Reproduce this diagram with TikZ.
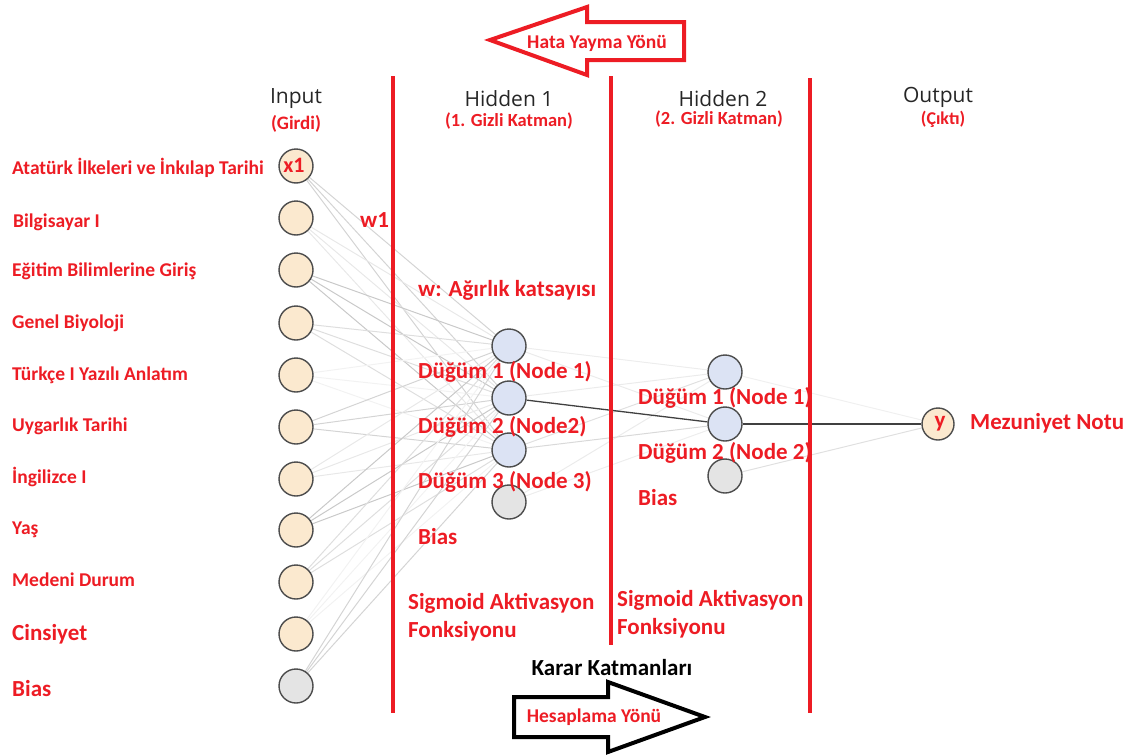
\documentclass[tikz,border=0pt]{standalone}
\usepackage{fontspec}
\setmainfont{Carlito}
\newfontfamily\hdrfont{Open Sans}
\usetikzlibrary{backgrounds}
\definecolor{rd}{HTML}{ED1C24}
\definecolor{inpfill}{HTML}{FBE9CF}
\definecolor{hidfill}{HTML}{DCE3F4}
\definecolor{biasfill}{HTML}{E4E4E4}
\definecolor{hdrgray}{HTML}{262626}
\tikzset{
  neuron/.style={circle, draw=black!70, line width=1.4pt, minimum size=34pt, inner sep=0pt},
  inp/.style={neuron, fill=inpfill},
  hid/.style={neuron, fill=hidfill},
  bia/.style={neuron, fill=biasfill},
  outn/.style={neuron, fill=inpfill, minimum size=32pt},
  conn/.style={line width=1pt},
  redline/.style={draw=rd, line width=4.5pt},
  lbl/.style={anchor=west, text=rd, font=\bfseries\fontsize{19.5}{23}\selectfont, inner sep=0pt},
  midlbl/.style={anchor=west, text=rd, font=\bfseries\fontsize{23}{27}\selectfont, inner sep=0pt},
  hdr/.style={text=hdrgray, font=\hdrfont\fontsize{21}{24}\selectfont, inner sep=0pt},
  subhdr/.style={text=rd, font=\bfseries\fontsize{19}{22}\selectfont, inner sep=0pt},
  blockarrow/.style={line width=4pt, fill=white, line join=miter}
}
\begin{document}
\begin{tikzpicture}[x=1pt,y=-1pt]
\useasboundingbox (0,0) rectangle (1130,755);

% red separator lines
\draw[redline] (393,76) -- (393,713);
\draw[redline] (611,76) -- (611,645);
\draw[redline] (810,78) -- (810,713);

% input neurons
\foreach \i/\y in {1/166,2/218,3/270,4/323,5/375,6/427,7/479,8/530,9/582,10/634}
  \node[inp] (i\i) at (296,\y) {};
\node[bia] (i11) at (296,686) {};
\node[text=rd, font=\bfseries\fontsize{22}{24}\selectfont, inner sep=0pt] (x1) at (294,165) {x1};

% hidden 1
\node[hid] (h1) at (509,346) {};
\node[hid] (h2) at (509,398) {};
\node[hid] (h3) at (509,450) {};
\node[bia] (h4) at (509,502) {};

% hidden 2
\node[hid] (g1) at (725,372) {};
\node[hid] (g2) at (725,424) {};
\node[bia] (g3) at (725,476) {};

% output
\node[outn] (o) at (938,424) {};
\node[text=rd, font=\bfseries\fontsize{23}{25}\selectfont, inner sep=0pt] (ylab) at (940,424) {y};

% connections
\begin{scope}[on background layer]
\foreach \i in {1,...,11}
  \foreach \h in {1,2,3} {
    \pgfmathtruncatemacro{\shade}{5+mod(3*\i+5*\h,5)*4}
    \draw[conn, draw=black!\shade] (i\i) -- (h\h);
  }
\foreach \h/\s in {1/7,3/12,4/8}
  \draw[conn, draw=black!\s] (h\h) -- (g1);
\foreach \h/\s in {1/8,3/15,4/7}
  \draw[conn, draw=black!\s] (h\h) -- (g2);
\draw[conn, draw=black!8] (h2) -- (g1);
\draw[conn, draw=black!75, line width=1.3pt] (h2) -- (g2);
\draw[conn, draw=black!6] (g1) -- (o);
\draw[conn, draw=black!75, line width=1.3pt] (g2) -- (o);
\draw[conn, draw=black!12] (g3) -- (o);
\end{scope}

% headers
\node[hdr] (hin) at (296,99) {Input};
\node[subhdr] (hin2) at (296,124) {(Girdi)};
\node[hdr] (hh1) at (509,99) {Hidden 1};
\node[subhdr, font=\bfseries\fontsize{18.5}{21}\selectfont] (hh1b) at (509,121) {(1. Gizli Katman)};
\node[hdr] (hh2) at (723,99) {Hidden 2};
\node[subhdr, font=\bfseries\fontsize{18.5}{21}\selectfont] (hh2b) at (719,119) {(2. Gizli Katman)};
\node[hdr] (hout) at (938,97) {Output};
\node[subhdr, font=\bfseries\fontsize{18}{21}\selectfont] (hout2) at (943,119) {(Çıktı)};

% input labels
\node[lbl] (l1) at (12,168) {Atatürk İlkeleri ve İnkılap Tarihi};
\node[lbl] (l2) at (13,222) {Bilgisayar I};
\node[lbl] (l3) at (12,271) {Eğitim Bilimlerine Giriş};
\node[lbl] (l4) at (12,323) {Genel Biyoloji};
\node[lbl] (l5) at (12,375) {Türkçe I Yazılı Anlatım};
\node[lbl] (l6) at (12,426) {Uygarlık Tarihi};
\node[lbl] (l7) at (12,477) {İngilizce I};
\node[lbl] (l8) at (12,530) {Yaş};
\node[lbl] (l9) at (12,580) {Medeni Durum};
\node[lbl, font=\bfseries\fontsize{23}{26}\selectfont] (l10) at (12,634) {Cinsiyet};
\node[lbl, font=\bfseries\fontsize{23}{26}\selectfont] (l11) at (12,689) {Bias};

% middle labels
\node[midlbl] (w1) at (360,220) {w1};
\node[midlbl] (wdesc) at (418,290) {w: Ağırlık katsayısı};
\node[midlbl] (d1) at (418,372) {Düğüm 1 (Node 1)};
\node[midlbl] (d2) at (418,427) {Düğüm 2 (Node2)};
\node[midlbl] (d3) at (418,482) {Düğüm 3 (Node 3)};
\node[midlbl] (b1) at (418,537) {Bias};
\node[midlbl] (e1) at (638,398) {Düğüm 1 (Node 1)};
\node[midlbl] (e2) at (638,453) {Düğüm 2 (Node 2)};
\node[midlbl] (b2) at (638,498) {Bias};
\node[midlbl, align=left, font=\bfseries\fontsize{23}{28}\selectfont] (s1) at (408,617) {Sigmoid Aktivasyon\\Fonksiyonu};
\node[midlbl, align=left, font=\bfseries\fontsize{23}{28}\selectfont] (s2) at (617,614) {Sigmoid Aktivasyon\\Fonksiyonu};
\node[midlbl] (mn) at (970,423) {Mezuniyet Notu};
\node[midlbl, text=black, anchor=center] (kk) at (612,668) {Karar Katmanları};

% top block arrow (error propagation)
\draw[blockarrow, draw=rd] (490,40) -- (587,7) -- (587,22) -- (684,22) -- (684,60) -- (587,60) -- (587,75) -- cycle;
\node[text=rd, font=\bfseries\fontsize{19.5}{22}\selectfont, inner sep=0pt] (hy) at (597,43) {Hata Yayma Yönü};

% bottom block arrow (computation)
\draw[blockarrow, draw=black] (514,697) -- (608,697) -- (608,682) -- (705,717) -- (608,752) -- (608,737) -- (514,737) -- cycle;
\node[text=rd, font=\bfseries\fontsize{19.5}{22}\selectfont, inner sep=0pt] (hs) at (594,717) {Hesaplama Yönü};
\end{tikzpicture}
\end{document}
